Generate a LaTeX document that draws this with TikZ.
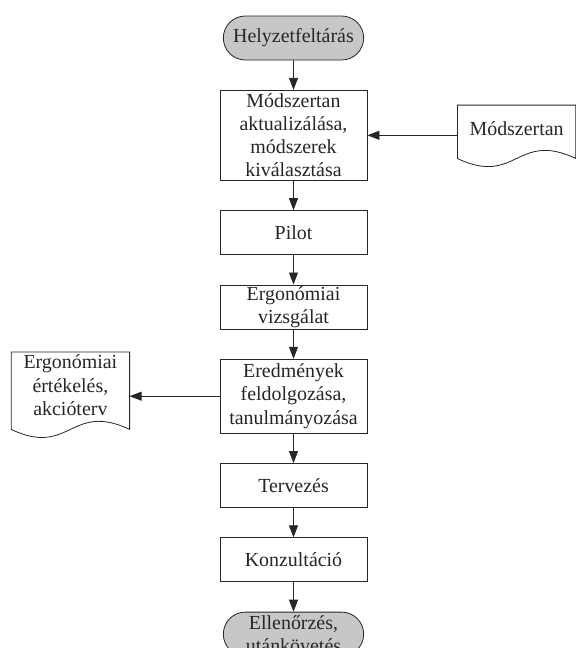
\documentclass[tikz,border=0pt]{standalone}
\usepackage{fontspec}
\setmainfont{Liberation Serif}
\usetikzlibrary{positioning,arrows.meta,shapes.misc,calc}

\begin{document}
\begin{tikzpicture}[
    node distance=29.5bp,
    every node/.style={font=\fontsize{20}{23.2}\selectfont, text=black!85},
    block/.style={draw=black!85, line width=0.8bp, align=center, minimum width=147bp, minimum height=44bp, inner ysep=1bp, fill=white},
    term/.style={block, rounded rectangle, fill=black!22},
    doc/.style={align=center, minimum width=118bp, inner ysep=1bp},
    arrow/.style={-{Triangle[length=12bp,width=9bp]}, line width=0.8bp, draw=black!85}
]
\useasboundingbox (0,0) rectangle (576bp,-648bp);
\node[term] (start) at (293.5bp,-38bp) {Helyzetfeltárás};
\node[block, minimum height=90bp, below=of start] (akt) {Módszertan\\aktualizálása,\\módszerek\\kiválasztása};
\node[block, below=of akt] (pilot) {Pilot};
\node[block, below=of pilot] (ergo) {Ergonómiai\\vizsgálat};
\node[block, minimum height=74bp, below=of ergo] (ered) {Eredmények\\feldolgozása,\\tanulmányozása};
\node[block, below=of ered] (terv) {Tervezés};
\node[block, below=of terv] (konz) {Konzultáció};
\node[term, below=of konz] (ell) {Ellenőrzés,\\utánkövetés};

% dokumentumok
\node[doc, minimum height=46bp, right=90bp of akt, yshift=7bp] (mod) {Módszertan};
\node[doc, minimum height=66bp, left=90bp of ered, yshift=11bp] (eval) {Ergonómiai\\értékelés,\\akcióterv};
\foreach \d/\e in {mod/7bp,eval/11bp}
  \draw[line width=0.8bp, draw=black!85] ($(\d.south west)+(0,-\e)$) -- (\d.north west) -- (\d.north east) -- ($(\d.south east)+(0,-\e)$)
    .. controls +(-59bp,28bp) and +(59bp,-28bp) .. ($(\d.south west)+(0,-\e)$) -- cycle;

\draw[arrow] (start) -- (akt);
\draw[arrow] (akt) -- (pilot);
\draw[arrow] (pilot) -- (ergo);
\draw[arrow] (ergo) -- (ered);
\draw[arrow] (ered) -- (terv);
\draw[arrow] (terv) -- (konz);
\draw[arrow] (konz) -- (ell);
\draw[arrow] (akt.east -| mod.west) -- (akt.east);
\draw[arrow] (ered.west) -- (ered.west -| eval.east);
\end{tikzpicture}
\end{document}
